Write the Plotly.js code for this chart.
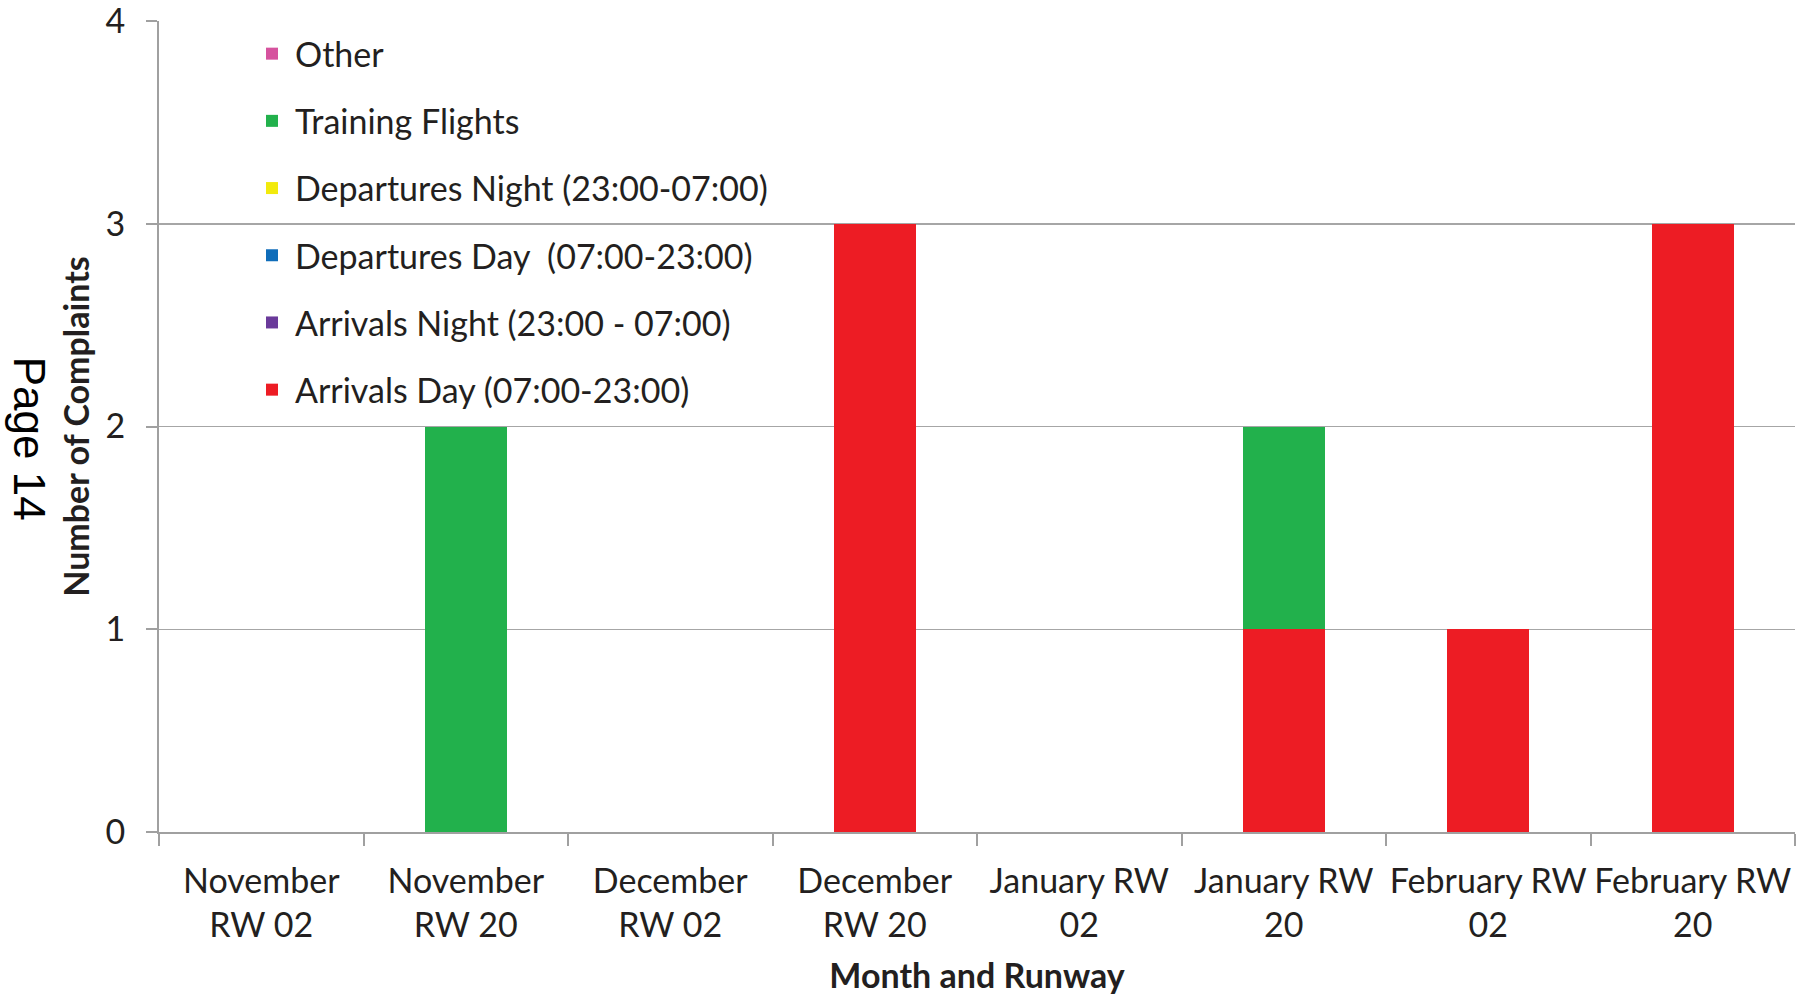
<!DOCTYPE html>
<html>
<head>
<meta charset="utf-8">
<script src="https://cdn.plot.ly/plotly-3.0.1.min.js"></script>
<style>
  html, body { margin: 0; padding: 0; background: #fff; }
  #chart { width: 1808px; height: 995px; }
</style>
</head>
<body>
<div id="chart"></div>
<script>
// complaints by month and runway, stacked by type

const categories = [
    'November<br>RW 02', 'November<br>RW 20',
    'December<br>RW 02', 'December<br>RW 20',
    'January RW<br>02', 'January RW<br>20',
    'February RW<br>02', 'February RW<br>20',
];

const arrivalsDay     = [0, 0, 0, 3, 0, 1, 1, 3];
const arrivalsNight   = [0, 0, 0, 0, 0, 0, 0, 0];
const departuresDay   = [0, 0, 0, 0, 0, 0, 0, 0];
const departuresNight = [0, 0, 0, 0, 0, 0, 0, 0];
const training        = [0, 2, 0, 0, 0, 1, 0, 0];
const other           = [0, 0, 0, 0, 0, 0, 0, 0];

const yTicks = [0, 1, 2, 3, 4];

// stacking order bottom -> top; legend is shown top -> bottom reversed
const SERIES = [
    { name: 'Arrivals Day (07:00-23:00)',        y: arrivalsDay,     color: '#ED1C24' },
    { name: 'Arrivals Night (23:00 - 07:00)',    y: arrivalsNight,   color: '#6A3A9A' },
    { name: 'Departures Day  (07:00-23:00)',     y: departuresDay,   color: '#0F6DBA' },
    { name: 'Departures Night (23:00-07:00)',    y: departuresNight, color: '#F2EA0C' },
    { name: 'Training Flights',                  y: training,        color: '#22B14C' },
    { name: 'Other',                             y: other,           color: '#D6529E' },
];

const FONT = 'Lato, "Open Sans", sans-serif';
const TXT = '#231F20';

const data = SERIES.map((s, i) => ({
    type: 'bar',
    x: categories,
    y: s.y,
    name: s.name,
    legendgroup: 'g' + i,
    legendrank: 100 - i,
    marker: { color: s.color, line: { width: 0 } },
    hoverinfo: 'x+y+name',
}));

const layout = {
    width: 1808,
    height: 995,
    paper_bgcolor: '#ffffff',
    plot_bgcolor: '#ffffff',
    font: { family: FONT, color: TXT, size: 34 },
    barmode: 'stack',
    bargap: 0.6,
    margin: { l: 159, r: 13, t: 21, b: 163 },
    showlegend: true,
    legend: {
        x: 0.055, y: 0.995, xanchor: 'left', yanchor: 'top',
        traceorder: 'grouped',
        tracegroupgap: 20,
        bgcolor: 'rgba(0,0,0,0)',
        font: { family: FONT, size: 34, color: TXT },
        itemwidth: 36,
    },
    xaxis: {
        type: 'category',
        tickson: 'boundaries',
        tickangle: 0,
        ticks: 'outside', ticklen: 12, tickcolor: '#A0A0A0', tickwidth: 2,
        showline: true, linecolor: '#A0A0A0', linewidth: 2,
        showgrid: false,
        ticklabelstandoff: 18,
        tickfont: { family: FONT, size: 34, color: TXT },
        title: {
            text: '<b>Month and Runway</b>',
            font: { family: FONT, size: 34, color: TXT },
            standoff: 28,
        },
        automargin: false,
    },
    yaxis: {
        range: [0, 4],
        tickvals: yTicks,
        ticks: 'outside', ticklen: 11, tickcolor: '#A0A0A0', tickwidth: 2,
        showline: true, linecolor: '#A0A0A0', linewidth: 2,
        showgrid: true, gridcolor: '#A6A6A6', gridwidth: 1.5,
        zeroline: false,
        ticklabelstandoff: 14,
        ticklabeloverflow: 'allow',
        tickfont: { family: FONT, size: 34, color: TXT },
        title: {
            text: '<b>Number of Complaints</b>',
            font: { family: FONT, size: 34, color: TXT },
            standoff: 6,
        },
        automargin: false,
    },
    annotations: [{
        text: 'Page 14',
        xref: 'paper', yref: 'paper',
        x: -0.0795, y: 0.485, xanchor: 'center', yanchor: 'middle',
        textangle: 90,
        showarrow: false,
        font: { family: '"Liberation Sans", Arial, sans-serif', size: 44, color: '#000' },
    }],
};

Plotly.newPlot('chart', data, layout, { displayModeBar: false, staticPlot: true });
</script>
</body>
</html>
